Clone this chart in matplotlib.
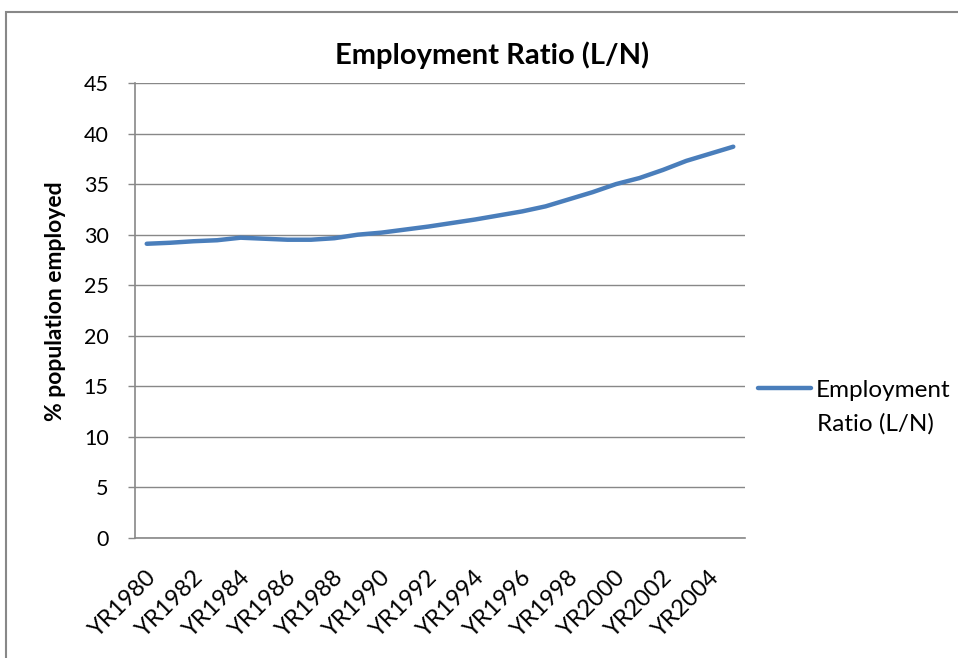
import matplotlib.pyplot as plt
from matplotlib.patches import Rectangle
from matplotlib.transforms import ScaledTranslation

plt.rcParams['font.family'] = ['Lato', 'DejaVu Sans']

# data
years = ['YR%d' % y for y in range(1980, 2006)]
ratio = [29.1, 29.2, 29.35, 29.45, 29.7, 29.6, 29.5, 29.5, 29.65, 30.0,
         30.2, 30.5, 30.8, 31.15, 31.5, 31.9, 32.3, 32.8, 33.5, 34.2,
         35.0, 35.6, 36.4, 37.3, 38.0, 38.7]
yticks = list(range(0, 50, 5))

fig = plt.figure(figsize=(9.58, 6.58), dpi=100)
ax = fig.add_axes([135 / 958, 1 - 538 / 658, 610 / 958, 455 / 658])

x = list(range(len(years)))
ax.plot(x, ratio, color='#4a7ebb', linewidth=3.2, solid_capstyle='round',
        label='Employment')

ax.set_xlim(-0.5, len(years) - 0.5)
ax.set_ylim(0, 45)
ax.set_yticks(yticks)
ax.set_xticks(x[::2])
ax.set_xticklabels(years[::2], rotation=45, ha='right', va='center',
                   rotation_mode='anchor')
ax.tick_params(axis='x', length=0, pad=26, labelsize=17)
ax.tick_params(axis='y', length=5, width=1, color='#888888', pad=14, labelsize=15.5)
shift = ScaledTranslation(6 / 100, 0, fig.dpi_scale_trans)
for lab in ax.get_xticklabels():
    lab.set_transform(lab.get_transform() + shift)

ax.grid(axis='y', color='#888888', linewidth=1.0)
ax.set_axisbelow(True)
for s in ['top', 'right']:
    ax.spines[s].set_visible(False)
for s in ['left', 'bottom']:
    ax.spines[s].set_color('#888888')
    ax.spines[s].set_linewidth(1.2)

ax.set_ylabel('% population employed', fontsize=16.5, fontweight='bold')
ax.yaxis.set_label_coords((66 - 135) / 610, (538 - 301) / 455)

fig.text(492 / 958, 1 - 55 / 658, 'Employment Ratio (L/N)', fontsize=21,
         fontweight='bold', ha='center', va='center')

ax.legend(loc='center left', bbox_to_anchor=(736 / 958, 1 - 390 / 658),
          bbox_transform=fig.transFigure, frameon=False, fontsize=17.5,
          handlelength=2.2, handletextpad=0.2)
fig.text(817 / 958, 1 - 424 / 658, 'Ratio (L/N)', fontsize=17.5,
         ha='left', va='center')

fig.patches.append(Rectangle((6 / 958, -0.05), 1.2, 1.05 - 12 / 658,
                             transform=fig.transFigure, fill=False,
                             edgecolor='#888888', linewidth=1.5))

fig.savefig('out.png', dpi=100)
